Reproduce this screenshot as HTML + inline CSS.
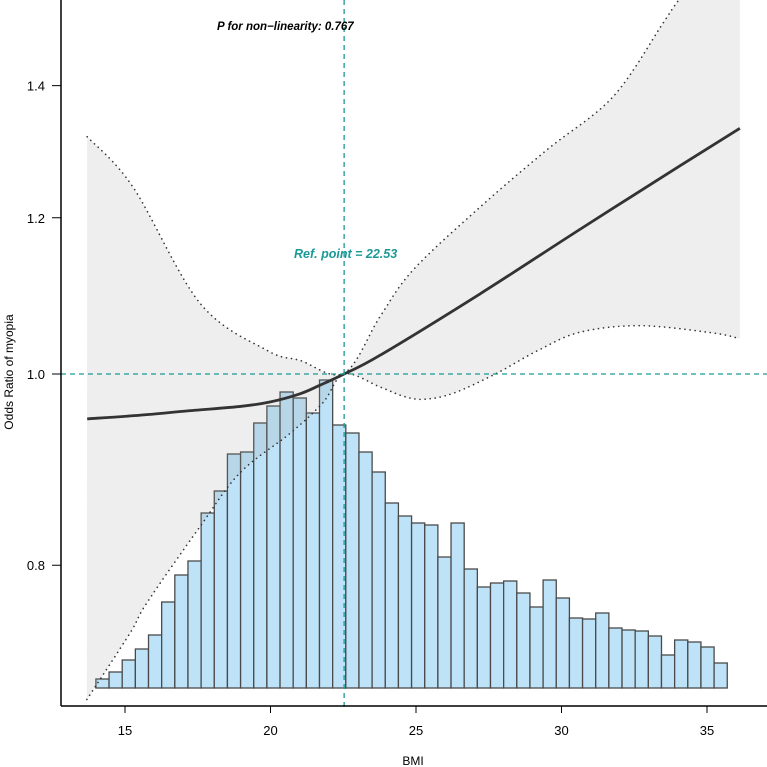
<!DOCTYPE html>
<html><head><meta charset="utf-8"><style>
html,body{margin:0;padding:0;background:#fff}
svg{display:block;font-family:"Liberation Sans",Arial,sans-serif}
</style></head><body>
<svg id="chart" width="767" height="767" viewBox="0 0 767 767" xmlns="http://www.w3.org/2000/svg">
<defs><clipPath id="plotclip"><rect x="61" y="0" width="706" height="706"/></clipPath></defs>
<g id="hist"></g>
<g id="band" clip-path="url(#plotclip)"></g>
<g id="lines" clip-path="url(#plotclip)"></g>
<g id="axes"></g>
<text x="217" y="30" font-size="11.5" font-weight="bold" font-style="italic" fill="#000">P for non−linearity: 0.767</text>
<text x="294" y="258" font-size="12.5" font-weight="bold" font-style="italic" fill="#1a9a96">Ref. point = 22.53</text>
<text x="413" y="765" font-size="12" text-anchor="middle">BMI</text>
<text transform="translate(13,372) rotate(-90)" font-size="12" text-anchor="middle">Odds Ratio of myopia</text>
</svg>
<script>
const histStart = 14.0;
const histBinWidth = 0.452;
const histCounts = [9,16,28,39,53,86,113,127,175,197,234,236,265,282,296,290,275,308,263,255,236,216,185,172,165,163,131,165,119,101,105,107,95,81,108,90,70,69,75,60,58,57,52,33,48,46,41,25];
const curveX = [13.7,15.5,17.2,19.0,20.0,21.0,21.7,22.53,23.76,27.2,30.64,34.07,36.13];
const curveY = [0.949,0.953,0.958,0.963,0.968,0.977,0.987,1.0,1.022,1.098,1.184,1.275,1.332];
const upperX = [13.7,15.27,17.58,19.88,21.01,22.53,23.76,24.9,27.2,29.5,31.77,33.49,34.07,36.13];
const upperY = [1.319,1.244,1.086,1.028,1.016,1.001,1.069,1.129,1.215,1.299,1.382,1.506,1.55,1.70];
const lowerX = [13.69,15.17,15.76,17.58,18.95,20.67,21.8,22.53,23.76,24.6,25.3,26.3,27.78,29.2,30.64,32.7,35.21,36.13];
const lowerY = [0.684,0.739,0.766,0.837,0.891,0.933,0.967,1.0,0.985,0.974,0.971,0.978,1.001,1.028,1.050,1.058,1.049,1.042];
const xTicks = [15,20,25,30,35];
const yTicks = [0.8,1.0,1.2,1.4];
const refX = 22.53;

const NS='http://www.w3.org/2000/svg';
function sx(v){return 125+(v-15)*29.1;}
function sy(v){return 374-857*Math.log(v);}
const histBase=688;
function hy(c){return histBase-c*1.0;}
function mk(tag,attrs,parent){const e=document.createElementNS(NS,tag);for(const k in attrs)e.setAttribute(k,attrs[k]);parent.appendChild(e);return e;}
function smooth(pts){
  let d='M'+pts[0][0].toFixed(2)+','+pts[0][1].toFixed(2);
  for(let i=0;i<pts.length-1;i++){
    const p0=pts[i-1]||pts[i],p1=pts[i],p2=pts[i+1],p3=pts[i+2]||p2;
    const c1=[p1[0]+(p2[0]-p0[0])/6,p1[1]+(p2[1]-p0[1])/6];
    const c2=[p2[0]-(p3[0]-p1[0])/6,p2[1]-(p3[1]-p1[1])/6];
    d+='C'+c1[0].toFixed(2)+','+c1[1].toFixed(2)+' '+c2[0].toFixed(2)+','+c2[1].toFixed(2)+' '+p2[0].toFixed(2)+','+p2[1].toFixed(2);
  }
  return d;
}
const hist=document.getElementById('hist');
histCounts.forEach((c,i)=>{
  const x0=sx(histStart+i*histBinWidth),x1=sx(histStart+(i+1)*histBinWidth);
  const r=mk('rect',{x:x0,y:hy(c),width:x1-x0,height:c,fill:'#bee3f8',stroke:'#4a4a4a','stroke-width':1.3},hist);
  
  
});
const band=document.getElementById('band');
const up=upperX.map((v,i)=>[sx(v),sy(upperY[i])]);
const lo=lowerX.map((v,i)=>[sx(v),sy(lowerY[i])]);
const loRev=lo.slice().reverse();
let bd=smooth(up)+'L'+loRev[0][0]+','+loRev[0][1]+smooth(loRev).replace(/^M[^C]*/,'')+'Z';
const bp=mk('path',{d:bd,fill:'rgba(150,150,150,0.16)',stroke:'none'},band);


const lines=document.getElementById('lines');
const u=mk('path',{d:smooth(up),fill:'none',stroke:'#333','stroke-width':1.6,'stroke-dasharray':'0.1 5','stroke-linecap':'round'},lines);


const l=mk('path',{d:smooth(lo),fill:'none',stroke:'#333','stroke-width':1.6,'stroke-dasharray':'0.1 5','stroke-linecap':'round'},lines);


const cpts=curveX.map((v,i)=>[sx(v),sy(curveY[i])]);
const c=mk('path',{d:smooth(cpts),fill:'none',stroke:'#333','stroke-width':2.8},lines);


const axes=document.getElementById('axes');
const hl=mk('line',{x1:61,x2:767,y1:sy(1),y2:sy(1),stroke:'#1a9a96','stroke-width':1.3,'stroke-dasharray':'5 4'},axes);


const vl=mk('line',{x1:sx(refX),x2:sx(refX),y1:0,y2:710,stroke:'#1a9a96','stroke-width':1.3,'stroke-dasharray':'5 4'},axes);


const ya=mk('line',{x1:61,x2:61,y1:0,y2:706,stroke:'#000','stroke-width':1.5},axes);


const xa=mk('line',{x1:61,x2:767,y1:706,y2:706,stroke:'#000','stroke-width':1.5},axes);


xTicks.forEach(t=>{
  const tk=mk('line',{x1:sx(t),x2:sx(t),y1:706,y2:713,stroke:'#000','stroke-width':1},axes);
  
  
  const tx=mk('text',{x:sx(t),y:735,'font-size':13,'text-anchor':'middle'},axes);
  tx.textContent=t;
  
  
});
yTicks.forEach(t=>{
  const tk=mk('line',{x1:52,x2:61,y1:sy(t),y2:sy(t),stroke:'#000','stroke-width':1},axes);
  
  
  const tx=mk('text',{x:45,y:sy(t)+5,'font-size':13,'text-anchor':'end'},axes);
  tx.textContent=t.toFixed(1);
  
  
});
</script>
</body></html>
